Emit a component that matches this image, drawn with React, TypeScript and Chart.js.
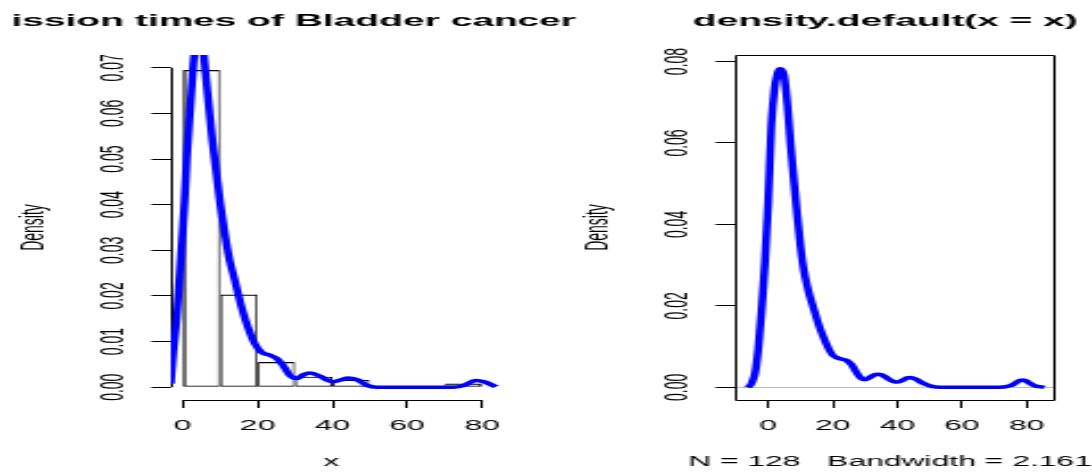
import React, { useEffect, useRef } from "react";
import { Chart, registerables } from "chart.js";

Chart.register(...registerables);

// ---------- data ----------
const leftTitle = "Remission times of Bladder cancer";
const rightTitle = "density.default(x = x)";
const leftXLabel = "x";
const rightXLabel = "N = 128   Bandwidth = 2.161";
const yLabel = "Density";

const histBreaks = [0, 10, 20, 30, 40, 50, 60, 70, 80];
const histDensity = [0.0695, 0.0203, 0.0055, 0.0023, 0.0016, 0, 0, 0.0008];

const histCurveX = [-3.2, -2.5, -1.6, -0.9, -0.2, 0.5, 1.1, 1.8, 2.5, 3.1, 4.3, 5.6, 6.1, 7.0, 7.9, 9.0, 10.0, 11.2, 12.5, 13.9, 15.7, 17.4, 19.2, 21.0, 23.3, 25.1, 26.8, 28.6, 30.4, 32.2, 34.0, 36.7, 38.5, 40.3, 42.2, 44.3, 47.0, 49.2, 51.9, 72.5, 75.2, 78.3, 80.5, 83.7];
const histCurveY = [0.0008, 0.0081, 0.0154, 0.0235, 0.0322, 0.041, 0.0505, 0.0593, 0.0673, 0.073, 0.0785, 0.073, 0.0688, 0.0615, 0.0542, 0.0469, 0.0403, 0.0337, 0.0279, 0.0235, 0.0176, 0.0132, 0.0096, 0.0077, 0.007, 0.0063, 0.0048, 0.0026, 0.0019, 0.0027, 0.0031, 0.0024, 0.0016, 0.0012, 0.0016, 0.002, 0.0015, 0.0004, 0, 0, 0.0004, 0.0015, 0.0012, 0.0001];

const densX = [-6.4, -5.5, -5, -4, -3, -2, -1, 0, 1, 2, 3, 3.7, 4.5, 5, 6, 7, 8, 9, 10, 11, 12, 13, 14, 15, 16, 17, 18, 19, 20, 21, 22, 23, 24, 25, 26, 27, 28, 29, 30, 31, 32, 33, 34, 35, 36, 37, 38, 39, 40, 41, 42, 43, 44, 45, 46, 47, 48, 49, 50, 51, 52, 54, 70, 73, 75, 76, 77, 78, 79, 80, 81, 82, 83, 84, 85.5];
const densY = [0, 0.0005, 0.0012, 0.0037, 0.0098, 0.0192, 0.0305, 0.0452, 0.0644, 0.0734, 0.0773, 0.0782, 0.0776, 0.0763, 0.0692, 0.0592, 0.0505, 0.0422, 0.0348, 0.029, 0.0252, 0.0222, 0.0196, 0.017, 0.0146, 0.0126, 0.0107, 0.0091, 0.0079, 0.0074, 0.0071, 0.0069, 0.0067, 0.0062, 0.0054, 0.0041, 0.0029, 0.0021, 0.0019, 0.0022, 0.0027, 0.0031, 0.0032, 0.0031, 0.0027, 0.0022, 0.0017, 0.0014, 0.0013, 0.0015, 0.0019, 0.0023, 0.0024, 0.0022, 0.0019, 0.0014, 0.001, 0.0007, 0.0004, 0.0002, 0.0001, 0, 0, 0.0001, 0.0004, 0.0008, 0.0013, 0.0017, 0.0018, 0.0015, 0.001, 0.0006, 0.0003, 0.0002, 0];

const leftXTicks = [0, 20, 40, 60, 80];
const leftYTicks = [0, 0.01, 0.02, 0.03, 0.04, 0.05, 0.06, 0.07];
const rightXTicks = [0, 20, 40, 60, 80];
const rightYTicks = [0, 0.02, 0.04, 0.06, 0.08];

const leftXRange = [-3.2, 83.2];
const leftYRange = [-0.0028, 0.0728];
const rightXRange = [-10.3, 89.0];
const rightYRange = [-0.0031, 0.0816];

// ---------- look ----------
const K = 1092 / 480; // horizontal stretch of the original picture
const FONT = "'Liberation Sans', Arial, Helvetica, sans-serif";
Chart.defaults.font.family = FONT;

const tickFont = { family: FONT, size: 14 };

function xScale(range: number[], ticks: number[]) {
  return {
    type: "linear",
    min: range[0],
    max: range[1],
    bounds: "data",
    offset: false,
    afterBuildTicks: (s: any) => {
      s.ticks = ticks.map((v) => ({ value: v }));
    },
    afterFit: (s: any) => {
      s.height = 73;
    },
    grid: { display: true, drawOnChartArea: false, drawTicks: true, tickLength: 8, color: "#000", lineWidth: 1, offset: false },
    border: { display: false },
    ticks: {
      autoSkip: false,
      minRotation: 0,
      maxRotation: 0,
      padding: 9.6,
      color: "#000",
      font: tickFont,
      callback: (v: any) => String(v),
    },
    title: { display: false },
  };
}

function yScale(range: number[], ticks: number[], width: number, titlePad: number, zeroLine: boolean) {
  return {
    type: "linear",
    min: range[0],
    max: range[1],
    bounds: "data",
    afterBuildTicks: (s: any) => {
      s.ticks = ticks.map((v) => ({ value: v }));
    },
    afterFit: (s: any) => {
      s.width = width;
    },
    grid: {
      display: true,
      drawOnChartArea: zeroLine,
      drawTicks: true,
      tickLength: 8.5,
      lineWidth: 1,
      color: (c: any) => (zeroLine && c.tick && c.tick.value === 0 ? "#bebebe" : "rgba(0,0,0,0)"),
      tickColor: "#000",
    },
    border: { display: false },
    ticks: {
      autoSkip: false,
      minRotation: 90,
      maxRotation: 90,
      crossAlign: "center",
      padding: 3,
      color: "#000",
      font: tickFont,
      callback: (v: any) => Number(v).toFixed(2),
    },
    title: { display: true, text: yLabel, color: "#000", font: tickFont, padding: { top: titlePad, bottom: 0 } },
  };
}

type DecorOpts = {
  title: string;
  titleAlign: "center" | "right";
  titleShift: number;
  titleClipLeft: number;
  xLabel: string;
  xLabelShift: number;
  box: boolean;
  axisX?: number[];
  axisY?: number[];
};

function makeDecor(o: DecorOpts) {
  return {
    id: "rDecor",
    beforeDatasetsDraw(chart: any) {
      const { ctx, chartArea: a, scales } = chart;
      ctx.save();
      ctx.strokeStyle = "#000";
      ctx.lineWidth = 1;
      ctx.beginPath();
      const L = Math.round(a.left) + 0.5;
      const R = Math.round(a.right) - 0.5;
      const T = Math.round(a.top) + 0.5;
      const B = Math.round(a.bottom) + 0.5;
      if (o.box) ctx.rect(L, T, R - L, B - T);
      if (o.axisX) {
        ctx.moveTo(scales.x.getPixelForValue(o.axisX[0]), B);
        ctx.lineTo(scales.x.getPixelForValue(o.axisX[o.axisX.length - 1]), B);
      }
      if (o.axisY) {
        ctx.moveTo(L, scales.y.getPixelForValue(o.axisY[0]));
        ctx.lineTo(L, scales.y.getPixelForValue(o.axisY[o.axisY.length - 1]));
      }
      ctx.stroke();
      ctx.restore();
    },
    afterDraw(chart: any) {
      const { ctx, chartArea: a } = chart;
      const cx = (a.left + a.right) / 2;
      // main title
      ctx.save();
      ctx.beginPath();
      ctx.rect(o.titleClipLeft, 0, chart.width, a.top);
      ctx.clip();
      ctx.font = `bold 17.1px ${FONT}`;
      ctx.fillStyle = "#000";
      ctx.textBaseline = "alphabetic";
      if (o.titleAlign === "center") {
        ctx.textAlign = "center";
        ctx.fillText(o.title, cx + o.titleShift, 26);
      } else {
        ctx.textAlign = "right";
        ctx.fillText(o.title, a.right + o.titleShift, 26);
      }
      ctx.restore();
      // x axis label
      ctx.save();
      ctx.font = `14px ${FONT}`;
      ctx.fillStyle = "#000";
      ctx.textAlign = "center";
      ctx.textBaseline = "middle";
      ctx.fillText(o.xLabel, cx + o.xLabelShift, 462);
      ctx.restore();
    },
  };
}

function leftConfig(): any {
  const n = histDensity.length;
  return {
    type: "bar",
    data: {
      datasets: [
        {
          type: "line",
          data: histCurveX.map((x, i) => ({ x, y: histCurveY[i] })),
          borderColor: "#0000ff",
          borderWidth: 3.5,
          pointRadius: 0,
          fill: false,
          cubicInterpolationMode: "monotone",
          clip: { left: 0, top: 0, right: 3, bottom: 5 },
          order: 1,
        },
        {
          type: "bar",
          data: histDensity.map((d, i) => ({ x: (histBreaks[i] + histBreaks[i + 1]) / 2, y: d })),
          backgroundColor: "rgba(0,0,0,0)",
          borderColor: "#000",
          borderWidth: histDensity.map((_, i) => ({ top: 1.1, bottom: 1, left: i === 0 ? 1.3 : 0.8, right: i === n - 1 ? 1.3 : 0.8 })),
          borderSkipped: false,
          inflateAmount: 0,
          barPercentage: 1,
          categoryPercentage: 1,
          order: 2,
        },
      ],
    },
    options: {
      responsive: false,
      maintainAspectRatio: false,
      devicePixelRatio: 1,
      animation: false,
      events: [],
      layout: { padding: { left: 0, right: 83, top: 55, bottom: 0 } },
      plugins: { legend: { display: false }, tooltip: { enabled: false }, title: { display: false } },
      scales: {
        x: xScale(leftXRange, leftXTicks),
        y: yScale(leftYRange, leftYTicks, 75, 6.6, false),
      },
    },
    plugins: [
      makeDecor({
        title: leftTitle,
        titleAlign: "right",
        titleShift: 36,
        titleClipLeft: 5.1,
        xLabel: leftXLabel,
        xLabelShift: -0.6,
        box: false,
        axisX: leftXTicks,
        axisY: leftYTicks,
      }),
    ],
  };
}

function rightConfig(): any {
  return {
    type: "line",
    data: {
      datasets: [
        {
          data: densX.map((x, i) => ({ x, y: densY[i] })),
          borderColor: "#0000ff",
          borderWidth: 3.5,
          pointRadius: 0,
          fill: false,
          cubicInterpolationMode: "monotone",
        },
      ],
    },
    options: {
      responsive: false,
      maintainAspectRatio: false,
      devicePixelRatio: 1,
      animation: false,
      events: [],
      layout: { padding: { left: 0, right: 16, top: 55, bottom: 0 } },
      plugins: { legend: { display: false }, tooltip: { enabled: false }, title: { display: false } },
      scales: {
        x: xScale(rightXRange, rightXTicks),
        y: yScale(rightYRange, rightYTicks, 83, 14.5, true),
      },
    },
    plugins: [
      makeDecor({
        title: rightTitle,
        titleAlign: "center",
        titleShift: -4.4,
        titleClipLeft: 0,
        xLabel: rightXLabel,
        xLabelShift: -2.3,
        box: true,
      }),
    ],
  };
}

export default function App() {
  const leftRef = useRef<HTMLCanvasElement>(null);
  const rightRef = useRef<HTMLCanvasElement>(null);

  useEffect(() => {
    document.body.style.margin = "0";
    const c1 = new Chart(leftRef.current as HTMLCanvasElement, leftConfig());
    const c2 = new Chart(rightRef.current as HTMLCanvasElement, rightConfig());
    return () => {
      c1.destroy();
      c2.destroy();
    };
  }, []);

  return (
    <div style={{ position: "fixed", left: 0, top: 0, width: 1092, height: 473, overflow: "hidden", background: "#fff" }}>
      <canvas
        ref={leftRef}
        width={300}
        height={473}
        style={{ position: "absolute", left: 0, top: 0, width: 300 * K, height: 473 }}
      />
      <canvas
        ref={rightRef}
        width={240}
        height={473}
        style={{ position: "absolute", left: 546, top: 0, width: 240 * K, height: 473 }}
      />
    </div>
  );
}
